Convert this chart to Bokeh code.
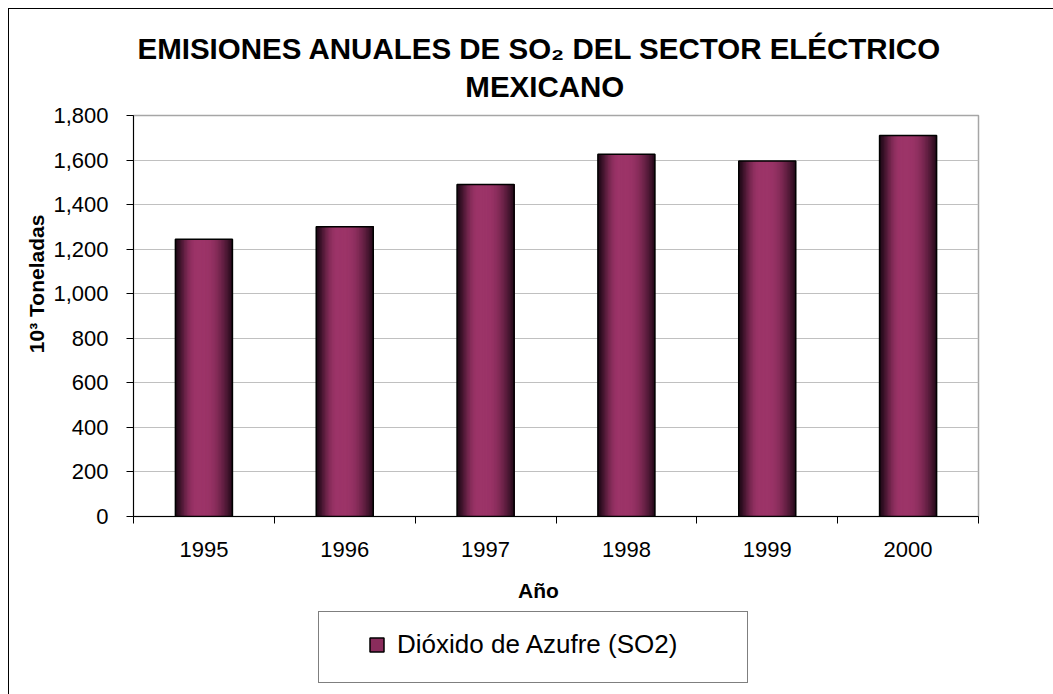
import math
from bokeh.plotting import figure
from bokeh.layouts import column
from bokeh.models import (Range1d, FixedTicker, NumeralTickFormatter, Legend,
                          LegendItem, Title)
from bokeh.embed import file_html
from bokeh.resources import INLINE

# ---- data ----
years = ["1995", "1996", "1997", "1998", "1999", "2000"]
so2 = [1245, 1301, 1490, 1626, 1596, 1710]
y_ticks = [0, 200, 400, 600, 800, 1000, 1200, 1400, 1600, 1800]
series_name = "Dióxido de Azufre (SO2)"
title_1 = "EMISIONES ANUALES DE SO₂ DEL SECTOR ELÉCTRICO"
title_2 = "MEXICANO"
y_title = "10³ Toneladas"
x_title = "Año"

FONT = "Liberation Sans"
NB = "\u00a0"
W = 1053
H1, H2 = 606, 88
BAR_COLOR = "#8a2c5c"

p = figure(width=W, height=H1, output_backend="svg", toolbar_location=None,
           x_range=Range1d(0, len(years)), y_range=Range1d(0, y_ticks[-1]),
           min_border_left=133, min_border_top=115, min_border_right=75,
           min_border_bottom=90)
p.border_fill_color = None
p.background_fill_color = "white"
p.styles = {
    "background-image": "linear-gradient(#000,#000), linear-gradient(#000,#000)",
    "background-size": "1px 100%, 100% 1px",
    "background-position": "8px 8px, 8px 8px",
    "background-repeat": "no-repeat, no-repeat",
}
p.outline_line_color = "#a6a6a6"
p.outline_line_width = 1.5

centers = [i + 0.5 for i in range(len(years))]

# y axis
p.yaxis.ticker = FixedTicker(ticks=y_ticks)
p.yaxis.formatter = NumeralTickFormatter(format="0,0")
p.yaxis.major_tick_out = 7
p.yaxis.major_tick_in = 0
p.yaxis.minor_tick_line_color = None
p.yaxis.major_label_standoff = 18
p.yaxis.major_label_text_font = FONT
p.yaxis.major_label_text_font_size = "22px"
p.yaxis.major_label_text_color = "black"
p.yaxis.axis_line_color = "black"
p.yaxis.major_tick_line_color = "black"
p.yaxis.axis_label = NB * 11 + y_title
p.yaxis.axis_label_text_font = FONT
p.yaxis.axis_label_text_font_size = "21px"
p.yaxis.axis_label_text_font_style = "bold"
p.yaxis.axis_label_text_color = "black"
p.yaxis.axis_label_standoff = 2

# x axis
p.xaxis.ticker = FixedTicker(ticks=centers, minor_ticks=list(range(len(years) + 1)))
p.xaxis.major_label_overrides = {c: y for c, y in zip(centers, years)}
p.xaxis.major_tick_line_color = None
p.xaxis.major_tick_out = 0
p.xaxis.major_tick_in = 0
p.xaxis.minor_tick_line_color = "black"
p.xaxis.minor_tick_out = 7
p.xaxis.minor_tick_in = 0
p.xaxis.major_label_standoff = 18
p.xaxis.major_label_text_font = FONT
p.xaxis.major_label_text_font_size = "22px"
p.xaxis.major_label_text_color = "black"
p.xaxis.axis_line_color = "black"
p.xaxis.axis_label = x_title + NB * 6
p.xaxis.axis_label_text_font = FONT
p.xaxis.axis_label_text_font_size = "21px"
p.xaxis.axis_label_text_font_style = "bold"
p.xaxis.axis_label_text_color = "black"
p.xaxis.axis_label_standoff = 19

p.xgrid.grid_line_color = None
p.ygrid.ticker = FixedTicker(ticks=y_ticks)
p.ygrid.grid_line_color = "#c0c0c0"
p.ygrid.grid_line_width = 1


def shade(t):
    if t < 0.36:
        return math.sin(math.pi / 2 * t / 0.36) ** 1.3
    if t <= 0.52:
        return 1.0
    return math.cos(math.pi / 2 * (t - 0.52) / 0.48) ** 0.9


# bars with a cylinder-like shading (overlapping strips, painted left to right)
bw = 0.405
n = 40
dark = (30, 8, 22)
light = (156, 52, 104)
xs, ws, tops, cols = [], [], [], []
for c, v in zip(centers, so2):
    right = c + bw / 2
    for k in range(n):
        f = shade((k + 0.5) / n)
        col = tuple(int(dark[j] + (light[j] - dark[j]) * f) for j in range(3))
        x0 = c - bw / 2 + k * bw / n
        xs.append((x0 + right) / 2)
        ws.append(right - x0)
        tops.append(v)
        cols.append("#%02x%02x%02x" % col)
p.vbar(x=xs, top=tops, width=ws, bottom=0, fill_color=cols, line_color=None)
p.vbar(x=centers, top=so2, width=bw, bottom=0, fill_color=None,
       line_color="black", line_width=1.5)

# two-line title (lines are left-aligned in the block: no-break spaces centre line 2)
p.add_layout(Title(text=title_1 + NB * 4 + "\n" + NB * 40 + title_2, align="center",
                   text_font=FONT, text_font_size="29.5px", text_font_style="bold",
                   text_color="black", text_line_height=1.16, standoff=24), "above")

# legend strip (separate figure so the legend box is not clipped)
p2 = figure(width=W, height=H2, output_backend="svg", toolbar_location=None,
            x_range=Range1d(0, 1), y_range=Range1d(0, 1),
            x_axis_location=None, y_axis_location=None,
            min_border_left=0, min_border_right=0, min_border_top=0, min_border_bottom=0)
p2.grid.visible = False
p2.outline_line_color = None
p2.background_fill_color = None
p2.border_fill_color = None
p2.styles = {
    "background-image": "linear-gradient(#000,#000)",
    "background-size": "1px 100%",
    "background-position": "8px 0px",
    "background-repeat": "no-repeat",
}
# invisible proxy renderers (outside the visible range) for the legend glyphs
blank = p2.scatter(x=[], y=[], marker="square", fill_color=None, line_color=None)
sw = p2.scatter(x=[-5], y=[-5], marker="square", fill_color=BAR_COLOR,
                line_color="black", line_width=1.5)
box = Legend(items=[LegendItem(label=" ", renderers=[blank])],
             location=(185, 11), margin=0, padding=0, spacing=0,
             glyph_width=428, glyph_height=70, label_standoff=0, label_width=0,
             label_height=10, label_text_font=FONT, label_text_font_size="2px",
             border_line_color="black", border_line_width=1,
             background_fill_color="white", background_fill_alpha=1)
leg = Legend(items=[LegendItem(label=series_name, renderers=[sw])],
             location=(226, 32), margin=0, padding=0, spacing=0,
             glyph_width=35, glyph_height=35, label_standoff=3,
             label_text_font=FONT, label_text_font_size="26px",
             label_text_color="black", border_line_color=None,
             background_fill_alpha=0)
p2.add_layout(box, "center")
p2.add_layout(leg, "center")

layout = column(p, p2, spacing=0)
open("out.html", "w").write(file_html(layout, INLINE))
